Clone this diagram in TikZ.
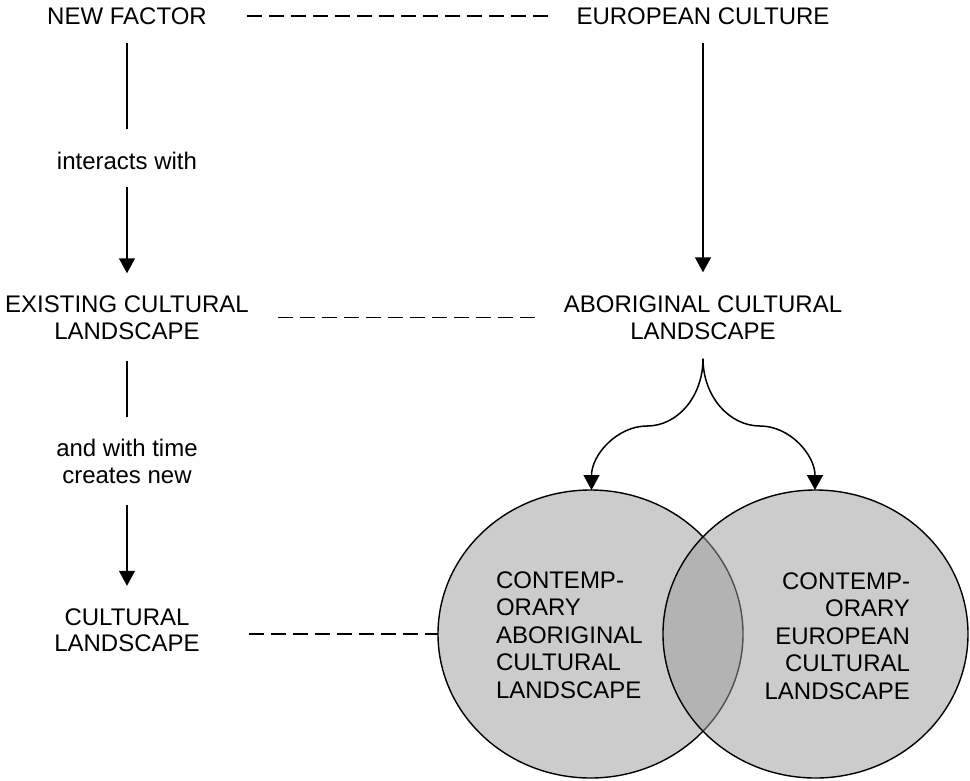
\documentclass[tikz,border=0pt]{standalone}
\usepackage{fontspec}
\setmainfont{Liberation Sans}
\usetikzlibrary{arrows.meta,shapes.geometric,calc}
\definecolor{vennfill}{gray}{0.608}
\begin{document}
\begin{tikzpicture}[x=1pt,y=-1pt,
  lbl/.style={inner sep=0pt,outer sep=0pt,align=center,font=\fontsize{24pt}{26.5pt}\selectfont},
  inlbl/.style={inner sep=0pt,outer sep=0pt,font=\fontsize{24pt}{27.5pt}\selectfont},
  plain/.style={line width=1.5pt},
  arr/.style={line width=1.5pt,-{Triangle[length=15pt,width=16pt]}},
  dashline/.style={line width=1.5pt,dash pattern=on 15pt off 7pt},
  venn/.style={ellipse,draw,line width=1.4pt,fill=vennfill,fill opacity=0.51,
    minimum width=305pt,minimum height=288pt,inner sep=0pt,outer sep=0pt}]
\useasboundingbox (0,0) rectangle (970,780);

% text nodes
\node[lbl] (nf)  at (127,16)    {NEW FACTOR};
\node[lbl] (ec)  at (703,16)    {EUROPEAN CULTURE};
\node[lbl] (iw)  at (127,161)   {interacts with};
\node[lbl] (ecl) at (127,317.5) {EXISTING CULTURAL\\LANDSCAPE};
\node[lbl] (acl) at (703,317.5) {ABORIGINAL CULTURAL\\LANDSCAPE};
\node[lbl] (awt) at (127,461.5) {and with time\\creates new};
\node[lbl] (cl)  at (127,630)   {CULTURAL\\LANDSCAPE};

% circles
\node[venn] (lc) at (590.5,634) {};
\node[venn] (rc) at (815.5,634) {};
\node[inlbl,anchor=west,align=left]  (lt) at (496,635) {CONTEMP-\\ORARY\\ABORIGINAL\\CULTURAL\\LANDSCAPE};
\node[inlbl,anchor=east,align=right] (rt) at (910,636) {CONTEMP-\\ORARY\\EUROPEAN\\CULTURAL\\LANDSCAPE};

% left column connectors
\draw[plain,shorten <=18.5pt,shorten >=23.5pt] (nf) -- (iw);
\draw[arr,shorten <=17.5pt,shorten >=22.5pt] (iw) -- (ecl);
\draw[plain,shorten <=21.5pt,shorten >=22pt] (ecl) -- (awt);
\draw[arr,shorten <=21pt,shorten >=22.5pt] (awt) -- (cl);

% right column
\draw[arr,shorten <=18.5pt,shorten >=23.5pt] (ec) -- (acl);
\coordinate (sp) at ($(acl.south)+(0,19.5)$);
\draw[arr] (sp) .. controls (703,396) and (678,426) .. (647,426)
  .. controls (617,426) and (591.5,455) .. ($(lc.north)+(1,0)$);
\draw[arr] (sp) .. controls (703,396) and (729,426) .. (760,426)
  .. controls (790,426) and (815,455) .. ($(rc.north)+(-0.5,0)$);

% dashed links
\draw[dashline,shorten <=40pt,shorten >=29pt] (nf.east) -- (ec.west);
\draw[dashline,shorten <=29pt,shorten >=27pt] (ecl.east) -- (acl.west);
\draw[dashline,shorten <=49pt] (cl.east |- lc.west) -- (lc.west);
\end{tikzpicture}
\end{document}
